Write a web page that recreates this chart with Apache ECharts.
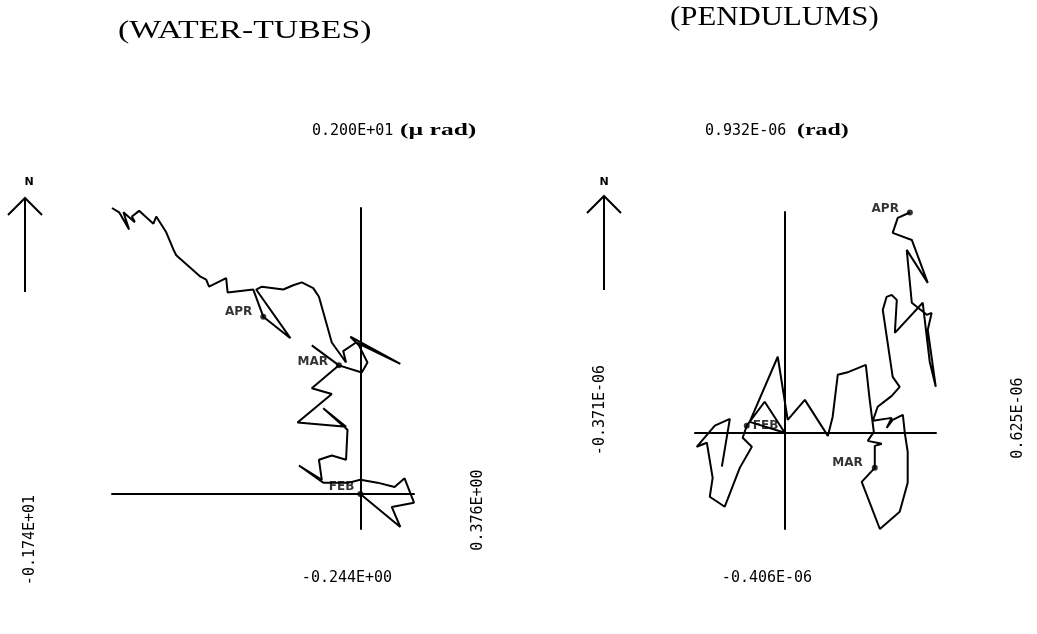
<!DOCTYPE html>
<html>
<head>
<meta charset="utf-8">
<script src="https://cdn.jsdelivr.net/npm/echarts@6/dist/echarts.min.js"></script>
<style>
  html, body { margin: 0; padding: 0; background: #fff; }
  #chart { width: 1037px; height: 634px; }
</style>
</head>
<body>
<div id="chart"></div>
<script>
// tilt paths, east (x) / north (y)
// water-tubes in micro-radians
var waterX = [0, 0.28, 0.22, 0.376, 0.31, 0.24, 0.12, 0, -0.08, -0.26,
  -0.43, -0.27, -0.29, -0.20, -0.10, -0.09, -0.26, -0.10, -0.44, -0.20,
  -0.34, -0.15, -0.34, -0.15, 0.01, 0.05, -0.01, -0.07, 0.28, -0.03,
  -0.12, -0.10, -0.20, -0.29, -0.33, -0.41, -0.47, -0.54, -0.69, -0.73,
  -0.49, -0.68, -0.75, -0.93, -0.94, -1.06, -1.08, -1.12, -1.29, -1.31,
  -1.36, -1.43, -1.45, -1.55, -1.60, -1.58, -1.66, -1.62, -1.69, -1.74];
var waterY = [0, -0.23, -0.09, -0.06, 0.11, 0.05, 0.08, 0.10, 0.08, 0.08,
  0.20, 0.10, 0.24, 0.27, 0.24, 0.45, 0.60, 0.47, 0.50, 0.70,
  0.74, 0.90, 1.04, 0.90, 0.85, 0.92, 1.04, 1.10, 0.91, 1.06,
  1.00, 0.92, 1.06, 1.38, 1.44, 1.48, 1.46, 1.43, 1.45, 1.43,
  1.09, 1.24, 1.43, 1.41, 1.51, 1.45, 1.50, 1.52, 1.67, 1.71,
  1.83, 1.94, 1.89, 1.98, 1.94, 1.90, 1.97, 1.85, 1.97, 2.00];
var waterMonths = ['FEB', 'MAR', 'APR'];
var waterMonthIdx = [0, 21, 41];

// pendulums in radians x 1e-6
var pendX = [-0.260, -0.227, -0.289, -0.364, -0.322, -0.298, -0.310, -0.248, -0.186, -0.136,
  -0.174, -0.157, -0.083, 0, -0.145, -0.029, 0.012, 0.083, 0.178, 0.198,
  0.219, 0.264, 0.335, 0.351, 0.368, 0.343, 0.401, 0.372, 0.372, 0.318,
  0.393, 0.475, 0.508, 0.508, 0.496, 0.488, 0.446, 0.421, 0.442, 0.364,
  0.384, 0.442, 0.475, 0.446, 0.405, 0.421, 0.442, 0.463, 0.455, 0.570,
  0.599, 0.624, 0.591, 0.607, 0.587, 0.525, 0.504, 0.591, 0.525, 0.446,
  0.467, 0.517];
var pendY = [-0.143, 0.059, 0.030, -0.059, -0.042, -0.190, -0.270, -0.312, -0.148, -0.059,
  -0.021, 0.030, 0.131, 0, 0.046, 0.321, 0.055, 0.139, -0.013, 0.068,
  0.245, 0.257, 0.287, 0.139, 0.004, -0.034, -0.046, -0.055, -0.148, -0.207,
  -0.406, -0.333, -0.211, -0.080, 0, 0.076, 0.055, 0.021, 0.063, 0.051,
  0.110, 0.156, 0.194, 0.236, 0.519, 0.574, 0.582, 0.561, 0.422, 0.549,
  0.300, 0.194, 0.435, 0.506, 0.498, 0.549, 0.772, 0.633, 0.814, 0.844,
  0.907, 0.930];
var pendMonths = ['FEB', 'MAR', 'APR'];
var pendMonthIdx = [11, 28, 61];

// axis extents printed on the plot
var waterRange = { xmin: -1.74, xmax: 0.376, ymin: -0.244, ymax: 2.0 };
var pendRange = { xmin: -0.371, xmax: 0.625, ymin: -0.406, ymax: 0.932 };
var waterLabels = ['0.200E+01', '-0.244E+00', '-0.174E+01', '0.376E+00'];
var pendLabels = ['0.932E-06', '-0.406E-06', '-0.371E-06', '0.625E-06'];

var INK = '#000';
var MONO = '"DejaVu Sans Mono", monospace';
var SERIF = '"Liberation Serif", "DejaVu Serif", serif';

function zip(xs, ys) {
  return xs.map(function (x, i) { return [x, ys[i]]; });
}

function marks(xs, ys, names, idx, labelPos) {
  return idx.map(function (k, i) {
    var p = labelPos[i];
    return {
      name: names[i],
      value: [xs[k], ys[k]],
      label: { position: p[0], distance: p[1], offset: [0, p[2]] }
    };
  });
}

function axisPair(g, r) {
  var common = {
    gridIndex: g,
    type: 'value',
    axisLine: { onZero: true, lineStyle: { color: INK, width: 2 } },
    axisTick: { show: false },
    axisLabel: { show: false },
    splitLine: { show: false }
  };
  return {
    x: Object.assign({ min: r.xmin, max: r.xmax }, common),
    y: Object.assign({ min: r.ymin, max: r.ymax }, common)
  };
}

var wa = axisPair(0, waterRange);
var pa = axisPair(1, pendRange);

function txt(str, x, y, font, opts) {
  opts = opts || {};
  return {
    type: 'text',
    x: x, y: y,
    rotation: opts.rot || 0,
    scaleX: opts.sx || 1,
    style: {
      text: str,
      font: font,
      fill: INK,
      textAlign: opts.align || 'left',
      textVerticalAlign: 'middle'
    }
  };
}

function arrow(x, top, bottom) {
  return [
    { type: 'polyline', shape: { points: [[x - 17, top + 17], [x, top], [x + 17, top + 17]] },
      style: { stroke: INK, lineWidth: 2, fill: null } },
    { type: 'line', shape: { x1: x, y1: top, x2: x, y2: bottom },
      style: { stroke: INK, lineWidth: 2 } }
  ];
}

var monthLabel = { show: true, formatter: '{b}', color: INK, fontFamily: 'DejaVu Sans', fontWeight: 'bold', fontSize: 12 };

var chart = echarts.init(document.getElementById('chart'));

var option = {
  backgroundColor: '#fff',
  animation: false,
  grid: [
    { left: 112, top: 208, width: 302, height: 321 },
    { left: 695, top: 212, width: 241, height: 317 }
  ],
  xAxis: [wa.x, pa.x],
  yAxis: [wa.y, pa.y],
  series: [
    {
      type: 'line', xAxisIndex: 0, yAxisIndex: 0,
      data: zip(waterX, waterY),
      showSymbol: false,
      lineStyle: { color: INK, width: 2 },
      z: 3
    },
    {
      type: 'line', xAxisIndex: 1, yAxisIndex: 1,
      data: zip(pendX, pendY),
      showSymbol: false,
      lineStyle: { color: INK, width: 2 },
      z: 3
    },
    {
      type: 'scatter', xAxisIndex: 0, yAxisIndex: 0,
      symbolSize: 6,
      itemStyle: { color: INK },
      label: monthLabel,
      data: marks(waterX, waterY, waterMonths, waterMonthIdx,
        [['left', 3, -7], ['left', 8, -3], ['left', 8, -5]]),
      z: 4
    },
    {
      type: 'scatter', xAxisIndex: 1, yAxisIndex: 1,
      symbolSize: 6,
      itemStyle: { color: INK },
      label: monthLabel,
      data: marks(pendX, pendY, pendMonths, pendMonthIdx,
        [['right', 3, 0], ['left', 9, -5], ['left', 8, -4]]),
      z: 4
    }
  ],
  graphic: [
    txt('(WATER-TUBES)', 118, 31, '26px ' + SERIF, { sx: 1.3 }),
    txt('(PENDULUMS)', 670, 18, '28px ' + SERIF, { sx: 1.1 }),

    txt(waterLabels[0], 312, 131, '15px ' + MONO),
    txt('(µ rad)', 400, 131, 'bold 17px ' + SERIF, { sx: 1.5 }),
    txt(waterLabels[1], 347, 578, '15px ' + MONO, { align: 'center' }),
    txt(waterLabels[2], 30, 540, '15px ' + MONO, { align: 'center', rot: Math.PI / 2 }),
    txt(waterLabels[3], 478, 510, '15px ' + MONO, { align: 'center', rot: Math.PI / 2 }),

    txt(pendLabels[0], 705, 131, '15px ' + MONO),
    txt('(rad)', 797, 131, 'bold 17px ' + SERIF, { sx: 1.4 }),
    txt(pendLabels[1], 767, 578, '15px ' + MONO, { align: 'center' }),
    txt(pendLabels[2], 600, 410, '15px ' + MONO, { align: 'center', rot: Math.PI / 2 }),
    txt(pendLabels[3], 1018, 418, '15px ' + MONO, { align: 'center', rot: Math.PI / 2 }),

    txt('N', 29, 182, 'bold 11px "DejaVu Sans"', { align: 'center' }),
    txt('N', 604, 182, 'bold 11px "DejaVu Sans"', { align: 'center' })
  ].concat(arrow(25, 198, 292), arrow(604, 196, 290))
};

chart.setOption(option);
</script>
</body>
</html>
